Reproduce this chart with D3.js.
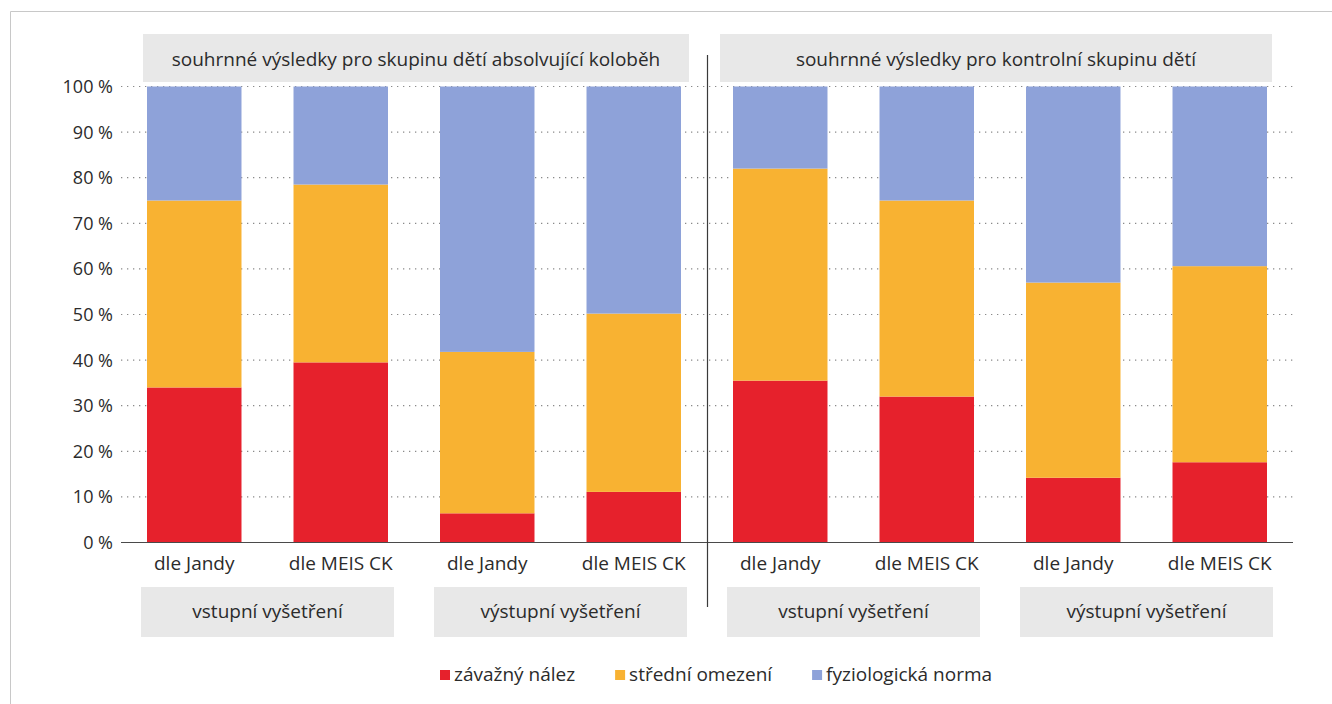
<!DOCTYPE html>
<html>
<head>
<meta charset="utf-8">
<script src="https://cdn.jsdelivr.net/npm/d3@7"></script>
<style>
  html, body { margin: 0; padding: 0; background: #ffffff; }
  svg { display: block; }
  text { font-family: "Open Sans", "Noto Sans", sans-serif; fill: #2b2b2b; }
</style>
</head>
<body>
<svg id="chart" width="1332" height="704"></svg>
<script>
// Category labels under each bar
const categories = ["dle Jandy", "dle MEIS CK", "dle Jandy", "dle MEIS CK",
                    "dle Jandy", "dle MEIS CK", "dle Jandy", "dle MEIS CK"];
// Examination phase, one per pair of bars
const phases = ["vstupní vyšetření", "výstupní vyšetření", "vstupní vyšetření", "výstupní vyšetření"];
// Titles of the two groups of children
const groupTitles = ["souhrnné výsledky pro skupinu dětí absolvující koloběh",
                     "souhrnné výsledky pro kontrolní skupinu dětí"];
// Series names (legend)
const seriesNames = ["závažný nález", "střední omezení", "fyziologická norma"];
// Shares in % per bar
const zavaznyNalez      = [34.0, 39.5,  6.4, 11.1, 35.5, 32.0, 14.2, 17.6];
const stredniOmezeni    = [41.0, 39.0, 35.4, 39.1, 46.5, 43.0, 42.8, 43.0];
const fyziologickaNorma = [25.0, 21.5, 58.2, 49.8, 18.0, 25.0, 43.0, 39.4];
// Y axis ticks
const yTicks = [0, 10, 20, 30, 40, 50, 60, 70, 80, 90, 100];

const colors = ["#e6212c", "#f8b232", "#8ea2d9"];
const fontSize = 19;

const svg = d3.select("#chart");

// frame of the figure
svg.append("path")
  .attr("d", "M10.5,704 L10.5,11.5 L1332,11.5")
  .attr("fill", "none").attr("stroke", "#c8c8c8").attr("stroke-width", 1);

const x = d3.scaleBand()
  .domain(d3.range(categories.length))
  .range([121, 1293])
  .paddingInner(0.355)
  .paddingOuter(0.1775);

const y = d3.scaleLinear().domain([0, 100]).range([542.5, 86.5]);

const rows = categories.map((c, i) => ({
  i,
  "závažný nález": zavaznyNalez[i],
  "střední omezení": stredniOmezeni[i],
  "fyziologická norma": fyziologickaNorma[i]
}));
const stacked = d3.stack().keys(seriesNames)(rows);

// gray label boxes
const boxFill = "#e8e8e8";
const bw = x.bandwidth();
// header boxes
const headerBoxes = [
  [x(0) - 4, x(3) + bw + 8],
  [x(4) - 13, x(7) + bw + 5]
];
svg.append("g").selectAll("rect").data(groupTitles).join("rect")
  .attr("x", (d, i) => headerBoxes[i][0])
  .attr("y", 34)
  .attr("width", (d, i) => headerBoxes[i][1] - headerBoxes[i][0])
  .attr("height", 48)
  .attr("fill", boxFill);
svg.append("g").selectAll("text").data(groupTitles).join("text")
  .attr("x", (d, i) => (headerBoxes[i][0] + headerBoxes[i][1]) / 2)
  .attr("y", 66)
  .attr("text-anchor", "middle")
  .attr("font-size", fontSize)
  .text(d => d);

// phase boxes under pairs of bars
svg.append("g").selectAll("rect").data(phases).join("rect")
  .attr("x", (d, i) => x(2 * i) - 6)
  .attr("y", 587)
  .attr("width", (d, i) => x(2 * i + 1) + bw + 6 - (x(2 * i) - 6))
  .attr("height", 50)
  .attr("fill", boxFill);
svg.append("g").selectAll("text").data(phases).join("text")
  .attr("x", (d, i) => (x(2 * i) + x(2 * i + 1) + bw) / 2)
  .attr("y", 618)
  .attr("text-anchor", "middle")
  .attr("font-size", fontSize)
  .text(d => d);

// dotted gridlines
const [gx0, gx1] = x.range();
svg.append("g").selectAll("line").data(yTicks.filter(t => t > 0)).join("line")
  .attr("x1", gx0).attr("x2", gx1)
  .attr("y1", d => y(d)).attr("y2", d => y(d))
  .attr("stroke", "#8a8a8a").attr("stroke-width", 1.2)
  .attr("stroke-dasharray", "1.3,4.7");

// stacked bars
svg.append("g").selectAll("g").data(stacked).join("g")
  .attr("fill", (d, i) => colors[i])
  .selectAll("rect").data(d => d).join("rect")
  .attr("x", d => x(d.data.i))
  .attr("y", d => y(d[1]))
  .attr("width", bw)
  .attr("height", d => y(d[0]) - y(d[1]));

// baseline
svg.append("line")
  .attr("x1", gx0).attr("x2", gx1)
  .attr("y1", y(0)).attr("y2", y(0))
  .attr("stroke", "#4a4a4a").attr("stroke-width", 1.2);

// y axis labels
svg.append("g").selectAll("text").data(yTicks).join("text")
  .attr("x", 113)
  .attr("y", d => y(d) + 6.5)
  .attr("text-anchor", "end")
  .attr("font-size", 18)
  .text(d => d + " %");

// category labels
svg.append("g").selectAll("text").data(categories).join("text")
  .attr("x", (d, i) => x(i) + bw / 2)
  .attr("y", 570)
  .attr("text-anchor", "middle")
  .attr("font-size", fontSize)
  .text(d => d);

// separator between the two groups
const sepX = Math.round((x(3) + bw + x(4)) / 2) + 0.5;
svg.append("line")
  .attr("x1", sepX).attr("x2", sepX)
  .attr("y1", 55).attr("y2", 607)
  .attr("stroke", "#3a3a3a").attr("stroke-width", 1.2);

// legend
const legendGap = 40;
const legend = svg.append("g");
const items = legend.selectAll("g").data(seriesNames).join("g");
items.append("rect")
  .attr("width", 10).attr("height", 10)
  .attr("y", -11)
  .attr("fill", (d, i) => colors[i]);
items.append("text")
  .attr("x", 14)
  .attr("y", 0)
  .attr("font-size", fontSize)
  .text(d => d);
let cursor = 0;
items.each(function () {
  const g = d3.select(this);
  g.attr("transform", `translate(${cursor},0)`);
  cursor += 14 + g.select("text").node().getComputedTextLength() + legendGap;
});
const legendWidth = cursor - legendGap;
legend.attr("transform", `translate(${Math.round(716 - legendWidth / 2)},681)`);
</script>
</body>
</html>
